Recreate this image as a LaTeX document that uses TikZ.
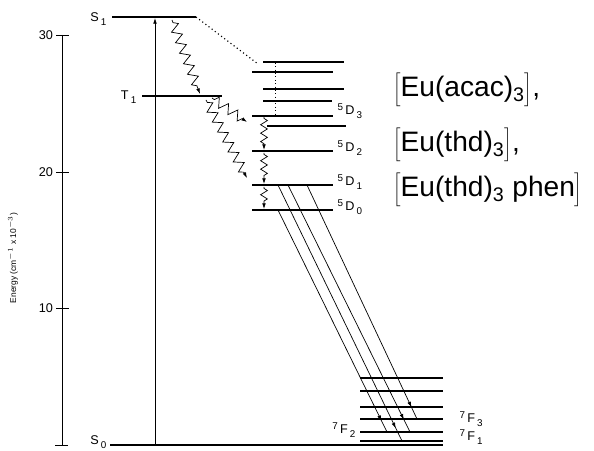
\documentclass[tikz,border=0pt]{standalone}
\usepackage{fontspec}
\setmainfont{Liberation Sans}
\usetikzlibrary{arrows.meta, positioning, decorations.pathmorphing, decorations.markings}

\newcommand{\trm}[3]{\raisebox{0.6ex}{\scriptsize #1}\,#2\,\raisebox{-0.6ex}{\scriptsize #3}}
\newcommand{\lsub}[2]{#1\,\raisebox{-0.6ex}{\scriptsize #2}}

\begin{document}
\begin{tikzpicture}[x=0.025cm, y=-0.025cm,
  lev/.style={line width=1.4pt},
  fine/.style={line width=0.5pt},
  arr/.style={-{Latex[length=4pt, width=2.6pt]}, line width=0.5pt},
  wavy/.style={arr, decorate, decoration={zigzag, segment length=8pt, amplitude=3.4pt,
               pre length=2pt, post length=4pt}},
  swavy/.style={arr, decorate, decoration={zigzag, segment length=6pt, amplitude=2.4pt,
                pre length=1pt, post length=4pt}},
  emis/.style={fine, postaction={decorate}, decoration={markings,
               mark=at position #1 with {\arrow{Latex[length=4pt, width=2.6pt]}}}},
  lbl/.style={font=\fontsize{9}{10}\selectfont, inner sep=1pt},
  term/.style={font=\fontsize{9}{10}\selectfont, inner sep=1pt, anchor=west},
  cplx/.style={font=\fontsize{20}{24}\selectfont, inner sep=0pt, anchor=base west},
]
  \useasboundingbox (0,0) rectangle (594,451);

  \draw[fine] (62,35) coordinate (ax1) -- (62,445) coordinate (ax0);
  \foreach \v/\y in {30/35, 20/172, 10/308}
    \draw[fine] (56,\y) node[lbl, left=1pt] (tk\v) {\v} -- (69,\y);
  \draw[fine] (55,445) -- (68,445);
  \node[rotate=90, font=\fontsize{6}{7}\selectfont] (elab) at (13,258)
    {Energy (cm$^{-1}$ x 10$^{-3}$)};

  \draw[lev] (112,17) coordinate (s1l) -- (196,17) coordinate (s1r);
  \draw[lev] (142,96) coordinate (t1l) -- (222,96) coordinate (t1r);
  \draw[lev] (110,445) coordinate (s0l) -- (443,445) coordinate (s0r);
  \node[lbl, anchor=east] (s1lab) at (108,19) {\lsub{S}{1}};
  \node[lbl, anchor=east] (t1lab) at (138,97) {\lsub{T}{1}};
  \node[lbl, anchor=east] (s0lab) at (108,442) {\lsub{S}{0}};

  \foreach \y/\a/\b [count=\i] in {62/263/344, 72/252/333, 89/263/344, 101/263/332,
      116/252/333, 126/267/346, 151/252/333, 185/252/333, 210/252/333}
    \draw[lev] (\a,\y) coordinate (ml\i) -- (\b,\y) coordinate (mr\i);
  \node[term] (d3) at (336,111) {\trm{5}{D}{3}};
  \node[term] (d2) at (336,148) {\trm{5}{D}{2}};
  \node[term] (d1) at (336,182) {\trm{5}{D}{1}};
  \node[term] (d0) at (336,207) {\trm{5}{D}{0}};

  \foreach \y [count=\i] in {378, 391, 407, 419, 432, 441}
    \draw[lev] (360,\y) coordinate (fl\i) -- (443,\y) coordinate (fr\i);
  \node[term] (f3) at (458,419) {\trm{7}{F}{3}};
  \node[term] (f1) at (458,437) {\trm{7}{F}{1}};
  \node[term, anchor=east] (f2) at (357,430) {\trm{7}{F}{2}};

  \node[cplx] (acac) at (393,97) {$\Biggl[$Eu(acac)\textsubscript{3}$\Biggr]$,};
  \node[cplx] (thd) at (393,152) {$\Biggl[$Eu(thd)\textsubscript{3}$\Biggr]$,};
  \node[cplx] (phen) at (393,197) {$\Biggl[$Eu(thd)\textsubscript{3} phen$\Biggr]$};

  \coordinate (ex0) at (155,445);
  \coordinate (ex1) at (155,18);
  \draw[arr] (ex0) -- (ex1);

  \coordinate (dt) at (258,64);
  \coordinate (vt) at (275,63);
  \coordinate (vb) at (275,115);
  \draw[dotted, thick] (s1r) -- (dt);
  \draw[dotted] (vt) -- (vb);

  \coordinate (w1a) at (172,20);  \coordinate (w1b) at (200,94);
  \coordinate (w2a) at (212,98);  \coordinate (w2b) at (247,122);
  \coordinate (w3a) at (206,100); \coordinate (w3b) at (247,178);
  \draw[wavy] (w1a) -- (w1b);
  \draw[wavy] (w2a) -- (w2b);
  \draw[wavy] (w3a) -- (w3b);
  \coordinate (v1) at (264,117); \coordinate (v2) at (264,150);
  \coordinate (v3) at (264,153); \coordinate (v4) at (264,184);
  \coordinate (v5) at (264,187); \coordinate (v6) at (264,209);
  \draw[swavy] (v1) -- (v2);
  \draw[swavy] (v3) -- (v4);
  \draw[swavy] (v5) -- (v6);

  \coordinate (eA0) at (278,210); \coordinate (eA1) at (387,432);
  \coordinate (eB0) at (278,185); \coordinate (eB1) at (402,441);
  \coordinate (eC0) at (288,185); \coordinate (eC1) at (410,432);
  \coordinate (eD0) at (307,185); \coordinate (eD1) at (417,419);
  \draw[emis=0.95] (eA0) -- (eA1);
  \draw[emis=0.95] (eB0) -- (eB1);
  \draw[emis=0.95] (eC0) -- (eC1);
  \draw[emis=0.95] (eD0) -- (eD1);
\end{tikzpicture}
\end{document}
